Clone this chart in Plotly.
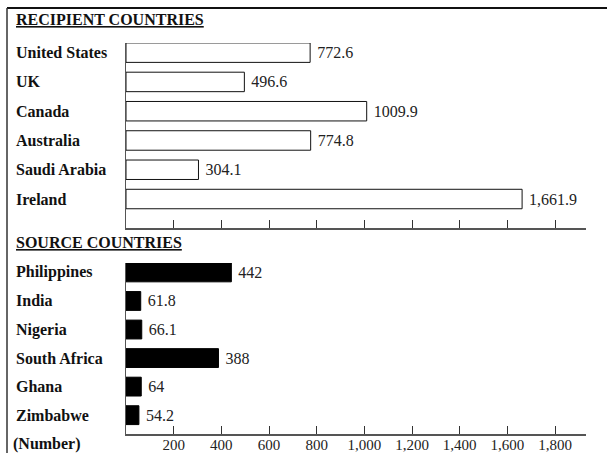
import plotly.graph_objects as go
from plotly.subplots import make_subplots

recipient_countries = ["United States", "UK", "Canada", "Australia", "Saudi Arabia", "Ireland"]
recipient_values = [772.6, 496.6, 1009.9, 774.8, 304.1, 1661.9]
recipient_labels = ["772.6", "496.6", "1009.9", "774.8", "304.1", "1,661.9"]

source_countries = ["Philippines", "India", "Nigeria", "South Africa", "Ghana", "Zimbabwe"]
source_values = [442, 61.8, 66.1, 388, 64, 54.2]
source_labels = ["442", "61.8", "66.1", "388", "64", "54.2"]

tick_values = [200, 400, 600, 800, 1000, 1200, 1400, 1600, 1800]

SERIF = "Liberation Serif, Times New Roman, serif"
W, H = 607, 453
ML, MR, MT, MB = 126, 21, 43, 19
PW = W - ML - MR
PH = H - MT - MB

def px_x(x):
    return (x - ML) / PW

def px_y(y):
    return (H - MB - y) / PH

fig = make_subplots(rows=2, cols=1, shared_xaxes=False, vertical_spacing=0.05)

fig.add_trace(go.Bar(
    x=recipient_values, y=recipient_countries, orientation="h",
    marker=dict(color="white", line=dict(color="#111", width=1)),
    width=0.665, text=recipient_labels, texttemplate=" %{text}", textposition="outside",
    textfont=dict(family=SERIF, size=16, color="#222"),
    cliponaxis=False, hoverinfo="skip", showlegend=False,
), row=1, col=1)

fig.add_trace(go.Bar(
    x=source_values, y=source_countries, orientation="h",
    marker=dict(color="black", line=dict(color="black", width=1)),
    width=0.66, text=source_labels, texttemplate=" %{text}", textposition="outside",
    textfont=dict(family=SERIF, size=16, color="#222"),
    cliponaxis=False, hoverinfo="skip", showlegend=False,
), row=2, col=1)

xcommon = dict(range=[0, 1930], tickvals=tick_values, tickformat=",",
               ticks="inside", ticklen=8, tickwidth=1, tickcolor="#333",
               showline=True, linecolor="#555", linewidth=1.5,
               showgrid=False, zeroline=False, automargin=False,
               ticklabelstandoff=-4,
               tickfont=dict(family=SERIF, size=15, color="#222"))
fig.update_xaxes(**xcommon)
fig.update_xaxes(showticklabels=False, row=1, col=1)

ycommon = dict(showline=True, linecolor="#555", linewidth=1, showticklabels=False,
               ticks="", showgrid=False, zeroline=False, automargin=False)
fig.update_yaxes(**ycommon)
fig.update_yaxes(range=[5.99, -0.33], domain=[px_y(228), 1.0], row=1, col=1)
fig.update_yaxes(range=[5.66, -0.33], domain=[0.0, px_y(263)], row=2, col=1)

LABEL_FONT = dict(family=SERIF, size=16, color="#111")
annotations = []
for c in recipient_countries:
    annotations.append(dict(x=px_x(14), xref="paper", y=c, yref="y",
                            text="<b>" + c + "</b>", showarrow=False,
                            xanchor="left", yanchor="middle", font=LABEL_FONT))
for c in source_countries:
    annotations.append(dict(x=px_x(14), xref="paper", y=c, yref="y2",
                            text="<b>" + c + "</b>", showarrow=False,
                            xanchor="left", yanchor="middle", font=LABEL_FONT))
annotations.append(dict(x=px_x(14), xref="paper", y=px_y(20), yref="paper",
                        text="<b>RECIPIENT COUNTRIES</b>", showarrow=False,
                        xanchor="left", yanchor="middle",
                        font=dict(family=SERIF, size=16, color="#111", lineposition="under")))
annotations.append(dict(x=px_x(14), xref="paper", y=px_y(242), yref="paper",
                        text="<b>SOURCE COUNTRIES</b>", showarrow=False,
                        xanchor="left", yanchor="middle",
                        font=dict(family=SERIF, size=16, color="#111", lineposition="under")))
annotations.append(dict(x=px_x(11), xref="paper", y=px_y(444), yref="paper",
                        text="<b>(Number)</b>", showarrow=False,
                        xanchor="left", yanchor="middle", font=LABEL_FONT))

shapes = [
    dict(type="line", xref="paper", yref="paper", x0=px_x(7), x1=px_x(607),
         y0=px_y(8), y1=px_y(8), line=dict(color="#111", width=2)),
    dict(type="line", xref="paper", yref="paper", x0=px_x(7), x1=px_x(7),
         y0=px_y(8), y1=px_y(453), line=dict(color="#333", width=1.5)),
]

fig.update_layout(
    width=W, height=H,
    margin=dict(l=ML, r=MR, t=MT, b=MB, autoexpand=False),
    paper_bgcolor="white", plot_bgcolor="white",
    annotations=annotations, shapes=shapes,
    showlegend=False,
)

fig.write_html("out.html", config={"displayModeBar": False},
               post_script="document.body.style.margin='0';document.body.style.overflow='hidden';")
